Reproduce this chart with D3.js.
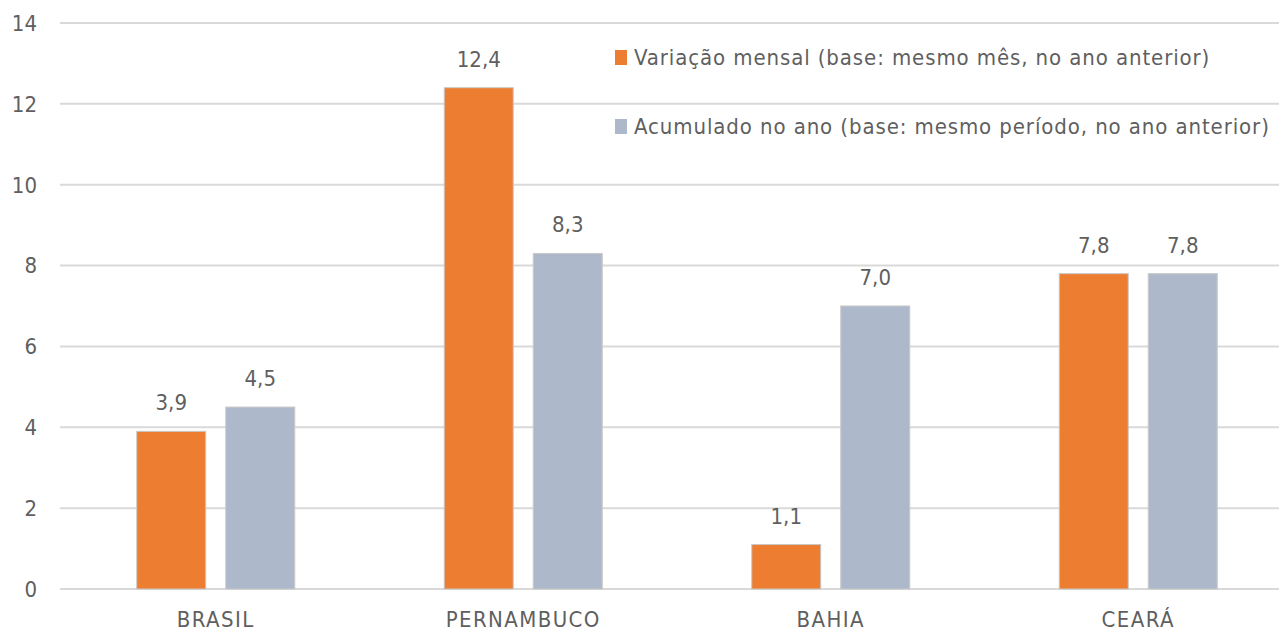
<!DOCTYPE html>
<html lang="pt-BR">
<head>
<meta charset="UTF-8">
<title>Variação</title>
<style>
  body { margin: 0; background: #fff; }
  text { font-family: "DejaVu Sans Condensed", "DejaVu Sans", sans-serif; font-stretch: condensed; fill: #5f5f5f; }
  .grid line { stroke: #d9d9d9; stroke-width: 2px; }
</style>
</head>
<body>
<svg id="chart" width="1279" height="634"></svg>
<script src="https://d3js.org/d3.v7.min.js"></script>
<script>
var categories = ["BRASIL", "PERNAMBUCO", "BAHIA", "CEARÁ"];
var seriesNames = ["Variação mensal (base: mesmo mês, no ano anterior)",
                   "Acumulado no ano (base: mesmo período, no ano anterior)"];
var mensal = [3.9, 12.4, 1.1, 7.8];
var acumulado = [4.5, 8.3, 7.0, 7.8];
var yTicks = [0, 2, 4, 6, 8, 10, 12, 14];
var colors = ["#ed7d31", "#adb9ca"];

var svg = d3.select("#chart");

var x = d3.scaleBand().domain(categories).range([62, 1292]);
var x1 = d3.scaleBand().domain([0, 1]).range([-79, 79]).paddingInner(0.225);
var y = d3.scaleLinear().domain([0, 14]).range([589, 23]);

var fmt = function(v) { return d3.format(".1f")(v).replace(".", ","); };

// gridlines
svg.append("g").attr("class", "grid")
  .selectAll("line").data(yTicks).enter().append("line")
  .attr("x1", 60).attr("x2", 1279)
  .attr("y1", function(d) { return y(d); })
  .attr("y2", function(d) { return y(d); });

// y tick labels
svg.append("g").selectAll("text").data(yTicks).enter().append("text")
  .attr("x", 37).attr("y", function(d) { return y(d); })
  .attr("dy", "0.36em").attr("text-anchor", "end")
  .style("font-size", "22px")
  .text(function(d) { return d; });

var rows = categories.map(function(c, i) { return { cat: c, vals: [mensal[i], acumulado[i]] }; });

var groups = svg.append("g").selectAll("g").data(rows).enter().append("g")
  .attr("transform", function(d) { return "translate(" + (x(d.cat) + x.bandwidth() / 2) + ",0)"; });

groups.selectAll("rect").data(function(d) { return d.vals; }).enter().append("rect")
  .attr("x", function(d, i) { return x1(i); })
  .attr("width", x1.bandwidth())
  .attr("y", function(d) { return y(d); })
  .attr("height", function(d) { return y(0) - y(d); })
  .attr("fill", function(d, i) { return colors[i]; })
  .attr("stroke", "#c8c8c8").attr("stroke-width", 1);

groups.selectAll("text.val").data(function(d) { return d.vals; }).enter().append("text")
  .attr("class", "val")
  .attr("x", function(d, i) { return x1(i) + x1.bandwidth() / 2; })
  .attr("y", function(d) { return y(d) - 21; })
  .attr("text-anchor", "middle")
  .style("font-size", "22px")
  .text(fmt);

// x labels
svg.append("g").selectAll("text").data(categories).enter().append("text")
  .attr("x", function(d) { return x(d) + x.bandwidth() / 2; })
  .attr("y", 627).attr("text-anchor", "middle")
  .style("font-size", "22px")
  .style("letter-spacing", "1.4px")
  .text(function(d) { return d; });

// legend
var legend = svg.append("g").selectAll("g").data(seriesNames).enter().append("g")
  .attr("transform", function(d, i) { return "translate(615," + (57 + i * 69) + ")"; });
legend.append("rect").attr("x", 0).attr("y", -7).attr("width", 12).attr("height", 15)
  .attr("fill", function(d, i) { return colors[i]; });
legend.append("text").attr("x", 19).attr("dy", "0.36em")
  .style("font-size", "22px")
  .style("letter-spacing", "0.9px")
  .text(function(d) { return d; });
</script>
</body>
</html>
